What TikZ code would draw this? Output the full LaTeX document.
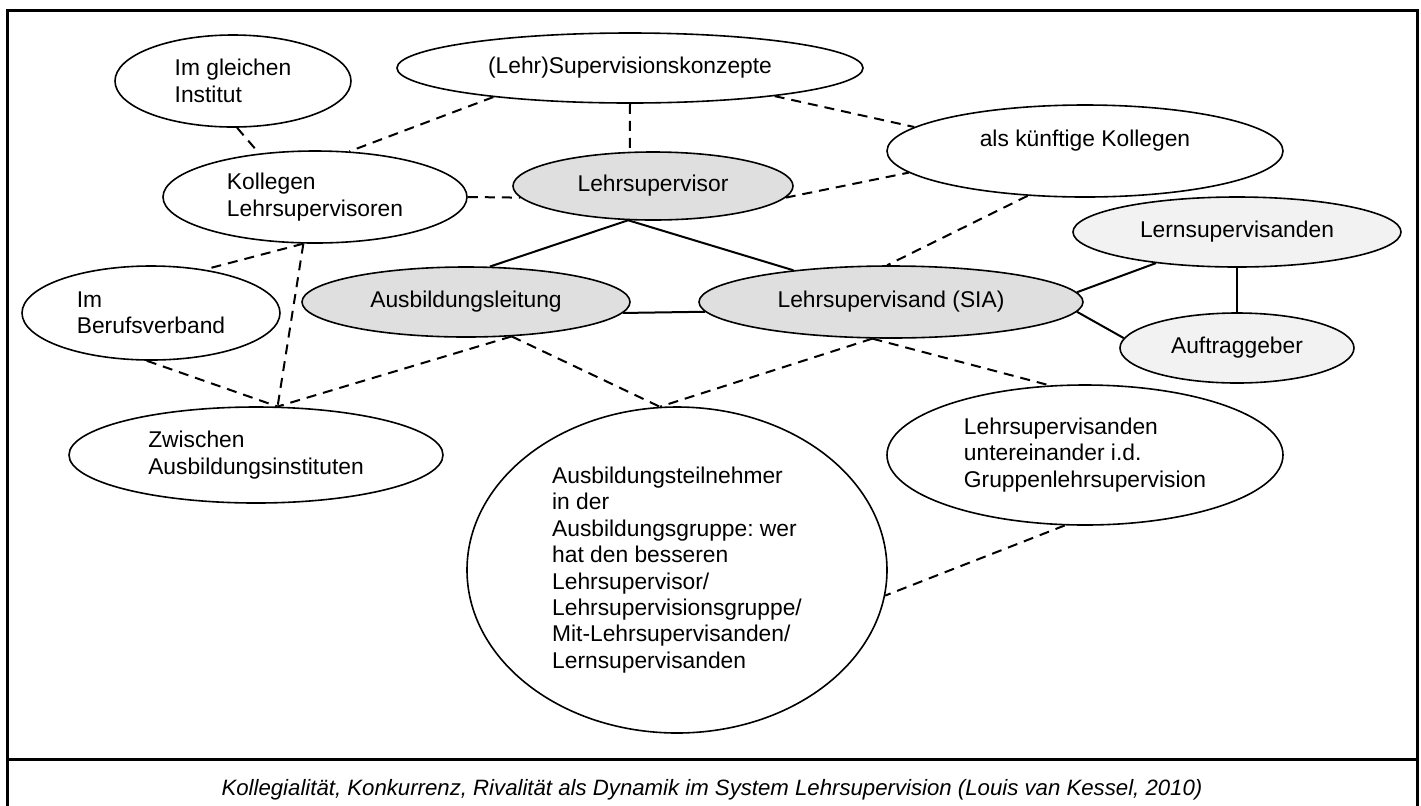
\documentclass[tikz,border=0pt]{standalone}
\usepackage{fontspec}
\setmainfont{Liberation Sans}
\usetikzlibrary{shapes.geometric}

\newcommand*{\picw}{1421}
\newcommand*{\pich}{805}
\newcommand*{\bodyfont}{\fontsize{11.4pt}{13.2pt}\selectfont}
\frenchspacing

\begin{document}
\begin{tikzpicture}
[
	x=0.5pt, y=-0.5pt,
	bubble/.style={ellipse,draw,line width=0.8pt,inner sep=0pt,align=left,font=\bodyfont},
	shaded/.style={bubble,fill=gray!25},
	pale/.style={bubble,fill=gray!10},
	link/.style={line width=1pt},
	loose/.style={link,dash pattern=on 5pt off 3.5pt}
]
	\useasboundingbox (0,0) rectangle (\picw,\pich);

	% frame
	\draw[line width=1.5pt] (7,\pich+10) -- (7,10) -- (1417,10) -- (1417,\pich+10);
	\draw[line width=1.5pt] (7,759) -- (1417,759);

	% bubbles
	\node[bubble,minimum width=118pt,minimum height=46pt] (ig) at (233,81) {Im gleichen\\Institut};
	\node[bubble,minimum width=233pt,minimum height=35pt] (sk) at (630,68) {(Lehr)Supervisionskonzepte};
	\node[bubble,minimum width=152pt,minimum height=46pt] (kl) at (315,197) {Kollegen\\Lehrsupervisoren};
	\node[shaded,minimum width=140pt,minimum height=34pt] (ls) at (653,186) {Lehrsupervisor};
	\node[bubble,minimum width=198pt,minimum height=46pt] (kk) at (1085,151) {als künftige Kollegen\\\mbox{}};
	\node[bubble,minimum width=129pt,minimum height=47pt] (bv) at (151,313) {Im\\Berufsverband};
	\node[shaded,minimum width=164pt,minimum height=35pt] (al) at (466,302) {Ausbildungsleitung};
	\node[shaded,minimum width=192pt,minimum height=36pt] (sia) at (891,302) {Lehrsupervisand (SIA)};
	\node[pale,minimum width=164pt,minimum height=35pt] (ln) at (1237,232) {Lernsupervisanden};
	\node[pale,minimum width=117pt,minimum height=35pt] (ag) at (1237,348) {Auftraggeber};
	\node[bubble,minimum width=187pt,minimum height=48pt] (zw) at (256,455) {Zwischen\\Ausbildungsinstituten};
	\node[bubble,minimum width=210pt,minimum height=163pt] (at) at (677,570)
		{Ausbildungsteilnehmer\\in der\\Ausbildungsgruppe: wer\\hat den besseren\\Lehrsupervisor/\\Lehrsupervisionsgruppe/\\Mit-Lehrsupervisanden/\\Lernsupervisanden};
	\node[bubble,minimum width=198pt,minimum height=70pt] (lu) at (1085,455)
		{Lehrsupervisanden\\untereinander i.d.\\Gruppenlehrsupervision};

	% caption
	\node[font=\fontsize{11.1pt}{13pt}\selectfont\itshape,anchor=base] (cap) at (712,795)
		{Kollegialität, Konkurrenz, Rivalität als Dynamik im System Lehrsupervision (Louis van Kessel, 2010)};

	% solid links
	\draw[link] (ls.-126) -- (al.56);
	\draw[link] (ls.-126) -- (sia.162);
	\draw[link] (al.-4) -- (sia.-177);
	\draw[link] (sia.3) -- (ln.201);
	\draw[link] (sia.-3) -- (ag.175);
	\draw[link] (ln.south) -- (ag.north);

	% dashed links
	\draw[loose] (ig.-85) -- (kl.142);
	\draw[loose] (sk.192) -- (kl.53);
	\draw[loose] (sk.south) -- (ls.124);
	\draw[loose] (kl.east) -- (ls.185);
	\draw[loose] (sk.-11) -- (kk.172);
	\draw[loose] (ls.-5) -- (kk.187);
	\draw[loose] (kk.218) -- (sia.96);
	\draw[loose] (kl.256) -- (bv.39);
	\draw[loose] (kl.256) -- (zw.66);
	\draw[loose] (bv.-95) -- (zw.66);
	\draw[loose] (al.-37) -- (zw.66);
	\draw[loose] (al.-37) -- (at.96);
	\draw[loose] (sia.-117) -- (at.96);
	\draw[loose] (sia.-117) -- (lu.117);
	\draw[loose] (lu.-106) -- (at.-7);

\end{tikzpicture}
\end{document}
